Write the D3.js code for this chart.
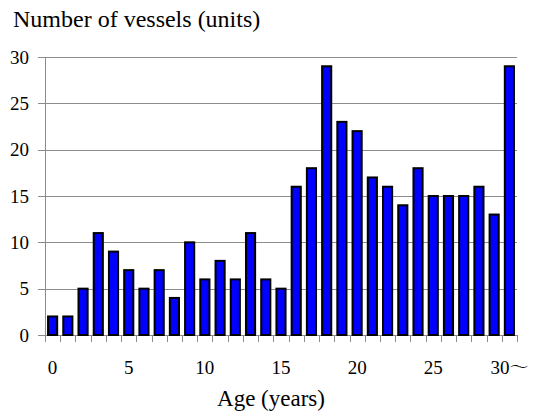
<!DOCTYPE html>
<html lang="en">
  <head>
    <meta charset="UTF-8" />
    <title>Number of vessels by age</title>
    <script src="https://d3js.org/d3.v7.min.js"></script>
    <style>
      body {
        margin: 0;
        background: #fff;
      }
    </style>
  </head>
  <body>
    <svg width="535" height="415"></svg>
    <script>
      // ages 0..30 (30 = 30 and over)
      const ages = d3.range(0, 31);
      const vessels = [
        2, 2, 5, 11, 9, 7, 5, 7, 4, 10, 6, 8, 6, 11, 6, 5, 16, 18, 29, 23, 22,
        17, 16, 14, 18, 15, 15, 15, 16, 13, 29,
      ];
      const yTicks = [0, 5, 10, 15, 20, 25, 30];
      const xLabels = ["0", "5", "10", "15", "20", "25", "30～"];
      const xLabelAges = [0, 5, 10, 15, 20, 25, 30];

      const serif = "'Liberation Serif', 'Times New Roman', serif";

      const svg = d3.select("svg").attr("font-family", serif);
      const margin = { top: 57, right: 18, bottom: 80, left: 45 };
      const width = 535 - margin.left - margin.right;
      const height = 415 - margin.top - margin.bottom;

      const g = svg
        .append("g")
        .attr("transform", `translate(${margin.left},${margin.top})`);

      const x = d3
        .scaleBand()
        .domain(ages)
        .range([0, width])
        .paddingInner(0.4)
        .paddingOuter(0.2);
      const y = d3.scaleLinear().domain([0, 30]).range([height, 0]);

      // gridlines (extend left as tick marks)
      g.selectAll(".grid")
        .data(yTicks)
        .enter()
        .append("line")
        .attr("class", "grid")
        .attr("x1", -7)
        .attr("x2", width)
        .attr("y1", (d) => Math.round(y(d)) + 0.5)
        .attr("y2", (d) => Math.round(y(d)) + 0.5)
        .attr("stroke", "#8c8c8c")
        .attr("stroke-width", 1);

      // y axis line
      g.append("line")
        .attr("x1", 0.5)
        .attr("x2", 0.5)
        .attr("y1", 0)
        .attr("y2", height)
        .attr("stroke", "#8c8c8c");

      // y labels
      g.selectAll(".ylab")
        .data(yTicks)
        .enter()
        .append("text")
        .attr("x", -16)
        .attr("y", (d) => y(d))
        .attr("dy", "0.35em")
        .attr("text-anchor", "end")
        .style("font-size", "19px")
        .text((d) => d);

      // x tick marks between bands
      const step = x.step();
      const bounds = d3.range(0, ages.length + 1).map((i) => i * step);
      g.selectAll(".xtick")
        .data(bounds)
        .enter()
        .append("line")
        .attr("x1", (d) => Math.round(d) + 0.5)
        .attr("x2", (d) => Math.round(d) + 0.5)
        .attr("y1", height)
        .attr("y2", height + 7)
        .attr("stroke", "#8c8c8c");

      // bars
      g.selectAll(".bar")
        .data(vessels)
        .enter()
        .append("rect")
        .attr("class", "bar")
        .attr("x", (d, i) => x(ages[i]))
        .attr("y", (d) => y(d))
        .attr("width", x.bandwidth())
        .attr("height", (d) => height - y(d))
        .attr("fill", "#0000ff")
        .attr("stroke", "#000")
        .attr("stroke-width", 2);

      // x labels
      g.selectAll(".xlab")
        .data(xLabels)
        .enter()
        .append("text")
        .attr("x", (d, i) => x(xLabelAges[i]) + x.bandwidth() / 2)
        .attr("y", height + 32)
        .attr("dy", "0.35em")
        .attr("text-anchor", "middle")
        .attr(
          "font-family",
          "'Liberation Serif', 'Noto Serif CJK JP', 'Noto Sans CJK JP', serif"
        )
        .style("font-size", "19px")
        .text((d) => d);

      svg
        .append("text")
        .attr("x", 13)
        .attr("y", 27)
        .style("font-size", "24px")
        .text("Number of vessels (units)");

      svg
        .append("text")
        .attr("x", 271)
        .attr("y", 406)
        .attr("text-anchor", "middle")
        .style("font-size", "23px")
        .text("Age (years)");
    </script>
  </body>
</html>
